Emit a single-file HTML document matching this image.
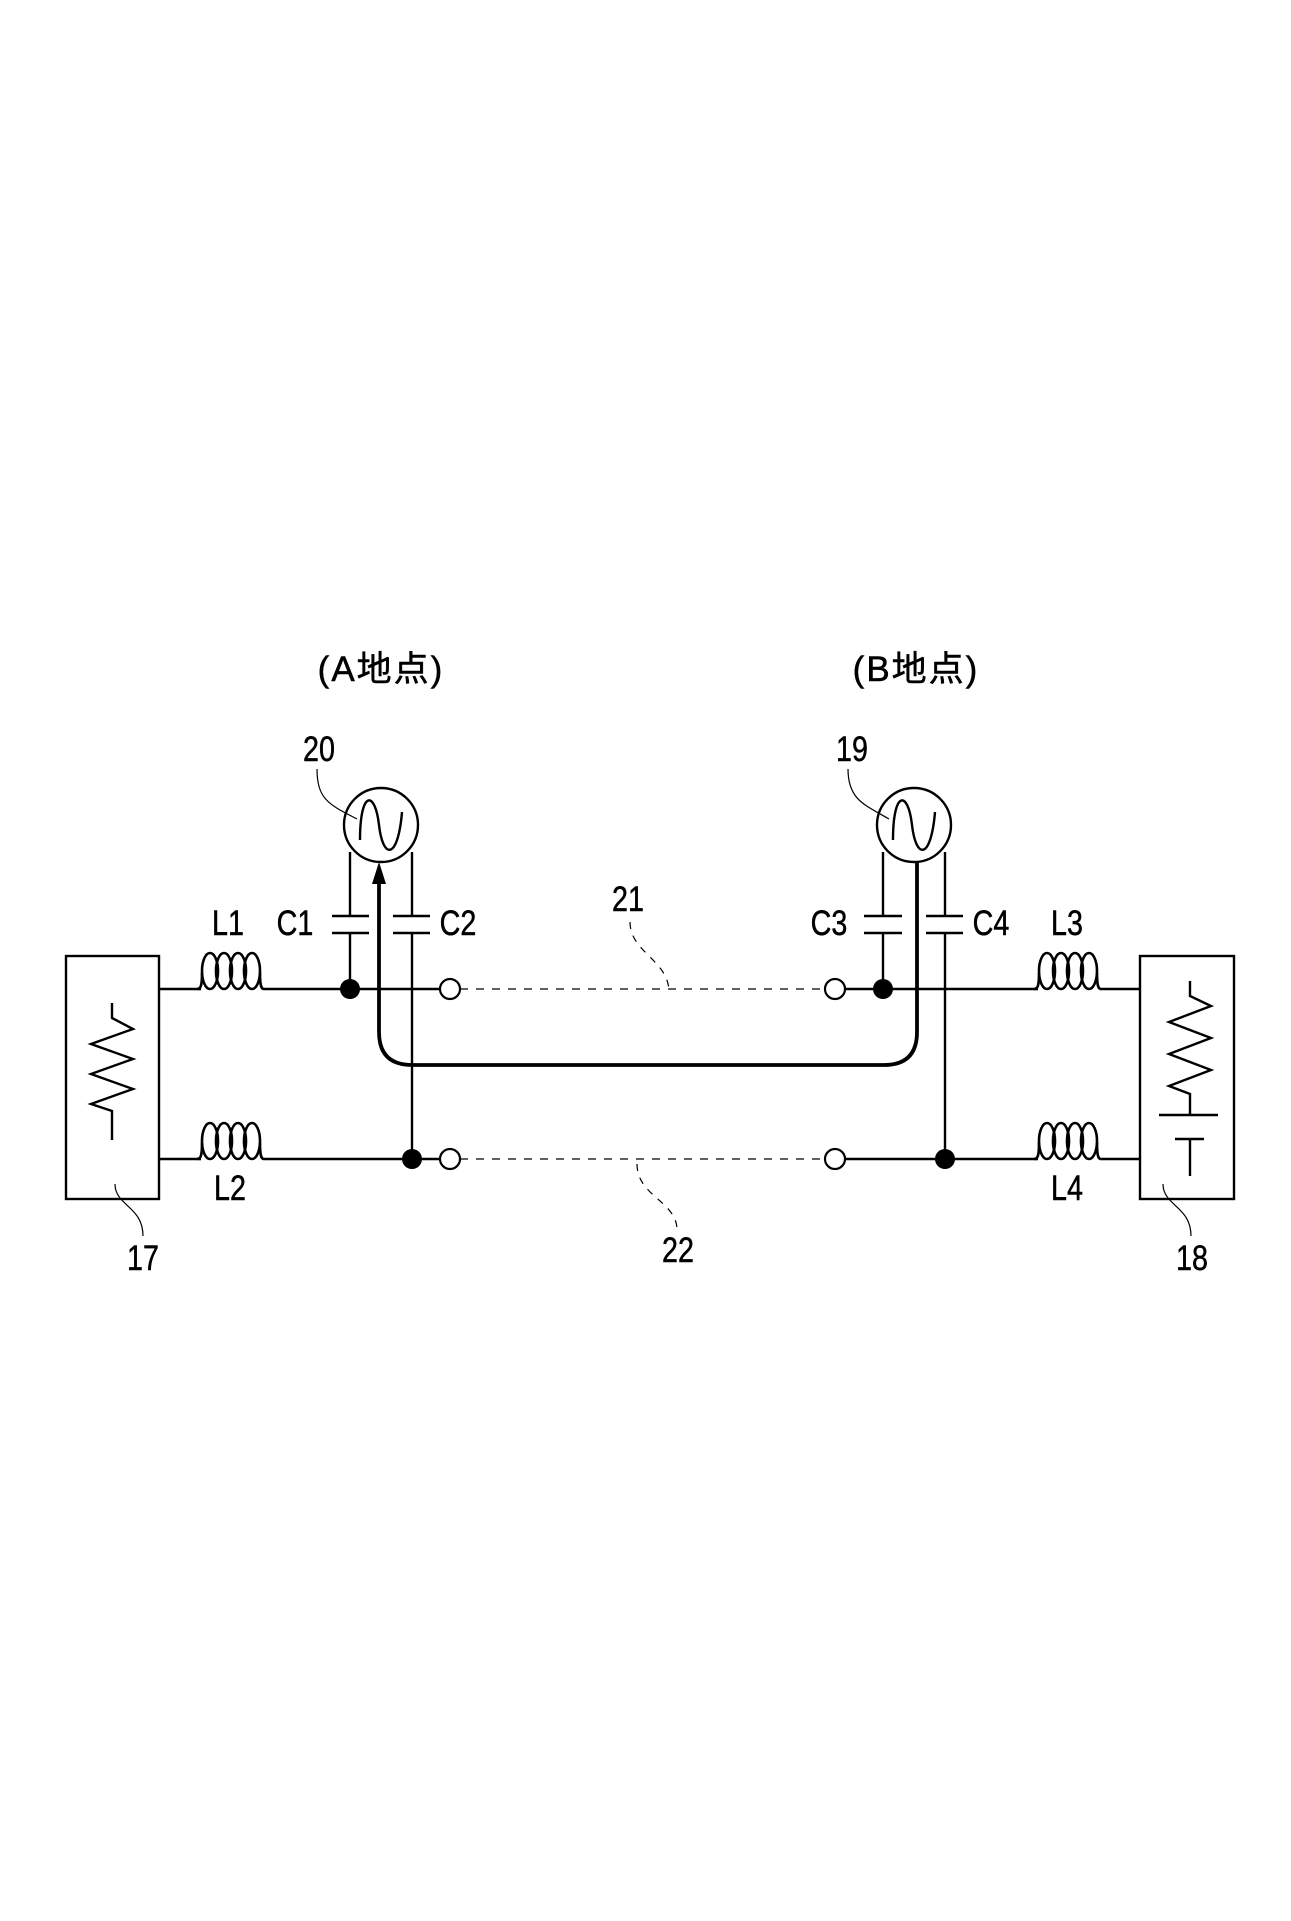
<!DOCTYPE html>
<html><head><meta charset="utf-8"><style>
html,body{margin:0;padding:0;background:#fff}
svg{display:block}
text{font-family:"Liberation Sans","Noto Sans CJK JP",sans-serif;fill:#000}
</style></head><body>
<svg width="1291" height="1921" viewBox="0 0 1291 1921" xmlns="http://www.w3.org/2000/svg">
<defs>
<g id="coil" fill="none" stroke="#000" stroke-width="2.6">
<path d="M0 0 H4"/>
<ellipse cx="13" cy="-18" rx="8" ry="18"/>
<ellipse cx="27" cy="-18" rx="8" ry="18"/>
<ellipse cx="41" cy="-18" rx="8" ry="18"/>
<ellipse cx="55" cy="-18" rx="8" ry="18"/>
<path d="M63 -16 C63 -4 64 0 67 0"/>
<path d="M5 -16 C5 -4 4 0 0 0"/>
</g>
</defs>
<g stroke="#000" fill="none" stroke-width="2.4">
<!-- box 17 -->
<rect x="66" y="956" width="93" height="243"/>
<path d="M112 1003 V1018 L133 1029 L91 1044 L133 1059 L91 1074 L133 1089 L91 1104 L112 1111 V1140"/>
<!-- box 18 -->
<rect x="1140" y="956" width="94" height="243"/>
<path d="M1190 981 V996 L1211 1006 L1169 1022 L1211 1038 L1169 1054 L1211 1070 L1169 1086 L1190 1094 V1115"/>
<path d="M1159 1115 H1218 M1175 1139 H1204 M1190 1139 V1176"/>
<!-- wires -->
<path d="M159 989 H197 M264 989 H440 M845 989 H1034 M1101 989 H1140"/>
<path d="M159 1159 H197 M264 1159 H440 M845 1159 H1034 M1101 1159 H1140"/>
<!-- sources -->
<circle cx="381" cy="825" r="37"/>
<circle cx="914" cy="825" r="37"/>
<path d="M360 840 C360 790 375 790 379 825 C383 860 398 860 402 812"/>
<path d="M893 840 C893 790 908 790 912 825 C916 860 931 860 935 812"/>
<path d="M350 852 V916 M350 933 V989 M332 916 H369 M332 933 H369"/>
<path d="M412 852 V916 M412 933 V1159 M393 916 H430 M393 933 H430"/>
<path d="M883 852 V916 M883 933 V989 M864 916 H902 M864 933 H902"/>
<path d="M945 852 V916 M945 933 V1159 M926 916 H963 M926 933 H963"/>
<!-- thick loop -->
<path d="M379 872 V1032 Q379 1065 412 1065 H884 Q917 1065 917 1032 V861" stroke-width="3.8"/>
<path d="M460 989 H825 M460 1159 H825" stroke-width="1.3" stroke-dasharray="8 8"/>
<path d="M317 769 C317 800 330 805 357 819" stroke-width="1.2"/>
<path d="M848 769 C848 800 865 805 889 819" stroke-width="1.2"/>
<path d="M630 922 C630 952 668 960 669 991" stroke-width="1.2" stroke-dasharray="7 7"/>
<path d="M637 1164 C637 1196 676 1201 677 1229" stroke-width="1.2" stroke-dasharray="7 7"/>
<path d="M115 1184 C115 1206 143 1206 143 1236" stroke-width="1.2"/>
<path d="M1163 1184 C1163 1206 1191 1206 1191 1236" stroke-width="1.2"/>
</g>
<use href="#coil" x="197" y="989"/>
<use href="#coil" x="197" y="1159"/>
<use href="#coil" x="1034" y="989"/>
<use href="#coil" x="1034" y="1159"/>
<path d="M379 862 L372 884 L386 884 Z" fill="#000"/>
<g fill="#000"><circle cx="350" cy="989" r="10"/><circle cx="412" cy="1159" r="10"/><circle cx="883" cy="989" r="10"/><circle cx="945" cy="1159" r="10"/></g>
<g fill="#fff" stroke="#000" stroke-width="2.2"><circle cx="450" cy="989" r="10"/><circle cx="450" cy="1159" r="10"/><circle cx="835" cy="989" r="10"/><circle cx="835" cy="1159" r="10"/></g>
<g font-size="35" text-anchor="middle" stroke="#000" stroke-width="0.5">
<text x="381" y="681" letter-spacing="2">(A地点)</text>
<text x="916" y="681" letter-spacing="2">(B地点)</text>
<text transform="translate(319,761) scale(0.82,1)">20</text>
<text transform="translate(852,761) scale(0.82,1)">19</text>
<text transform="translate(228,935) scale(0.82,1)">L1</text>
<text transform="translate(295,935) scale(0.82,1)">C1</text>
<text transform="translate(458,935) scale(0.82,1)">C2</text>
<text transform="translate(628,911) scale(0.82,1)">21</text>
<text transform="translate(829,935) scale(0.82,1)">C3</text>
<text transform="translate(991,935) scale(0.82,1)">C4</text>
<text transform="translate(1067,935) scale(0.82,1)">L3</text>
<text transform="translate(230,1200) scale(0.82,1)">L2</text>
<text transform="translate(1067,1200) scale(0.82,1)">L4</text>
<text transform="translate(678,1262) scale(0.82,1)">22</text>
<text transform="translate(143,1270) scale(0.82,1)">17</text>
<text transform="translate(1192,1270) scale(0.82,1)">18</text>
</g>
</svg>
</body></html>
